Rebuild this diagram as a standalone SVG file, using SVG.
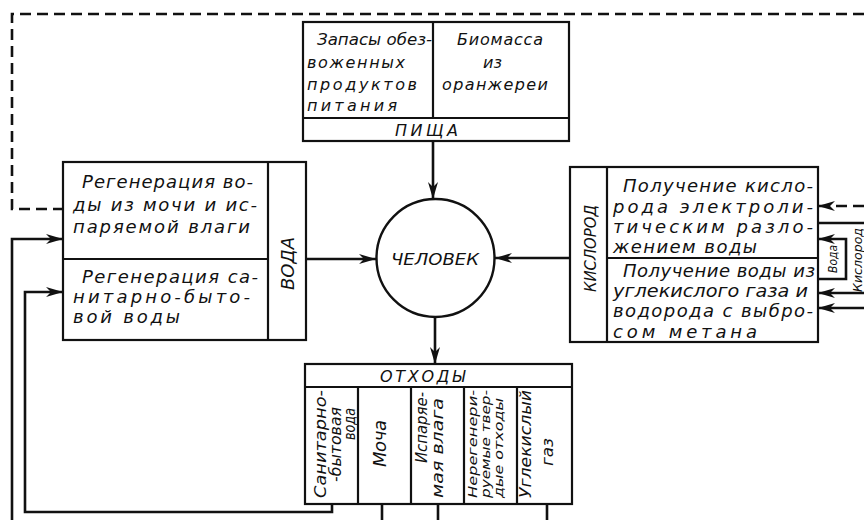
<svg xmlns="http://www.w3.org/2000/svg" width="864" height="520" viewBox="0 0 864 520">
<defs>
<style>
.box{fill:none;stroke:#111;stroke-width:2.2}
.ln{fill:none;stroke:#111;stroke-width:2.6}
.dash{stroke-dasharray:11 6}
.t{font-family:"DejaVu Sans","Liberation Sans",Arial,sans-serif;font-style:italic;font-size:18px;fill:#111}
.m{font-size:16px}
.s{font-size:15px}
.xs{font-size:12px}
</style>
<marker id="ah" markerUnits="userSpaceOnUse" markerWidth="18" markerHeight="12" refX="17" refY="6" orient="auto">
<path d="M0,1 L17,6 L0,11 L5,6 z" fill="#111"/>
</marker>
</defs>
<rect width="864" height="520" fill="#fff"/>

<g id="connectors">
<path class="ln dash" d="M864,14 H12 V209 H63"/>
<path class="ln dash" d="M864,206 H818" marker-end="url(#ah)"/>
<path class="ln" d="M12,520 V239 H63" marker-end="url(#ah)"/>
<path class="ln" d="M332,504 V512 H25 V292 H63" marker-end="url(#ah)"/>
<path class="ln" d="M433,141 V199" marker-end="url(#ah)"/>
<path class="ln" d="M306,259 H376" marker-end="url(#ah)"/>
<path class="ln" d="M570,258 H495" marker-end="url(#ah)"/>
<path class="ln" d="M435,317 V364" marker-end="url(#ah)"/>
<path class="ln" d="M382,504 V520 M438,504 V520 M547,504 V520"/>
<path class="ln" d="M818,223 H864"/>
<path class="ln" d="M818,279 H846 V239 H818" marker-end="url(#ah)"/>
<path class="ln" d="M864,293 H818" marker-end="url(#ah)"/>
<path class="ln" d="M864,308 H818" marker-end="url(#ah)"/>
<text class="t xs" transform="translate(837,273) rotate(-90)" textLength="28" lengthAdjust="spacingAndGlyphs">Вода</text>
<text class="t xs" transform="translate(862,292) rotate(-90)" textLength="64" lengthAdjust="spacingAndGlyphs">Кислород</text>
</g>

<g id="food">
<rect class="box" x="303" y="22" width="266" height="119"/>
<path class="box" d="M433,22 V118 M303,118 H569"/>
<text class="t m" x="317" y="45" textLength="115" lengthAdjust="spacingAndGlyphs">Запасы обез-</text>
<text class="t m" x="307" y="68" textLength="98" lengthAdjust="spacing">воженных</text>
<text class="t m" x="307" y="90" textLength="110" lengthAdjust="spacing">продуктов</text>
<text class="t m" x="307" y="111" textLength="90" lengthAdjust="spacing">питания</text>
<text class="t m" x="457" y="45" textLength="86" lengthAdjust="spacing">Биомасса</text>
<text class="t m" x="483" y="68" textLength="19" lengthAdjust="spacing">из</text>
<text class="t m" x="442" y="90" textLength="106" lengthAdjust="spacing">оранжереи</text>
<text class="t m" x="395" y="136" textLength="63" lengthAdjust="spacing">ПИЩА</text>
</g>

<g id="water">
<rect class="box" x="63" y="162" width="243" height="178"/>
<path class="box" d="M268,162 V340 M63,259 H268"/>
<text class="t" x="82" y="188" textLength="171" lengthAdjust="spacing">Регенерация во-</text>
<text class="t" x="73" y="211" textLength="184" lengthAdjust="spacing">ды из мочи и ис-</text>
<text class="t" x="73" y="233" textLength="177" lengthAdjust="spacing">паряемой влаги</text>
<text class="t" x="82" y="283" textLength="176" lengthAdjust="spacing">Регенерация са-</text>
<text class="t" x="73" y="303" textLength="177" lengthAdjust="spacing">нитарно-быто-</text>
<text class="t" x="73" y="323" textLength="107" lengthAdjust="spacing">вой воды</text>
<text class="t" transform="translate(294,290) rotate(-90)" textLength="53" lengthAdjust="spacing">ВОДА</text>
</g>

<g id="human">
<circle cx="435.5" cy="258" r="59" fill="none" stroke="#111" stroke-width="2.4"/>
<text class="t m" x="391" y="265" textLength="88" lengthAdjust="spacingAndGlyphs">ЧЕЛОВЕК</text>
</g>

<g id="oxygen">
<rect class="box" x="570" y="167" width="248" height="175"/>
<path class="box" d="M607,167 V342 M607,258 H818"/>
<text class="t" x="623" y="192" textLength="190" lengthAdjust="spacing">Получение кисло-</text>
<text class="t" x="613" y="213" textLength="200" lengthAdjust="spacing">рода электроли-</text>
<text class="t" x="613" y="233" textLength="200" lengthAdjust="spacing">тическим разло-</text>
<text class="t" x="613" y="253" textLength="144" lengthAdjust="spacing">жением воды</text>
<text class="t" x="623" y="277" textLength="192" lengthAdjust="spacing">Получение воды из</text>
<text class="t" x="613" y="297" textLength="195" lengthAdjust="spacingAndGlyphs">углекислого газа и</text>
<text class="t" x="613" y="317" textLength="200" lengthAdjust="spacing">водорода с выбро-</text>
<text class="t" x="613" y="338" textLength="144" lengthAdjust="spacing">сом метана</text>
<text class="t m" transform="translate(596,292) rotate(-90)" textLength="87" lengthAdjust="spacingAndGlyphs">КИСЛОРОД</text>
</g>

<g id="waste">
<rect class="box" x="305" y="364" width="267" height="140"/>
<path class="box" d="M305,387 H572 M358,387 V504 M411,387 V504 M464,387 V504 M517,387 V504"/>
<text class="t m" x="380" y="382" textLength="85" lengthAdjust="spacing">ОТХОДЫ</text>
<text class="t s" transform="translate(326,498) rotate(-90)" textLength="108" lengthAdjust="spacingAndGlyphs">Санитарно-</text>
<text class="t s" transform="translate(341,482) rotate(-90)" textLength="75" lengthAdjust="spacingAndGlyphs">-бытовая</text>
<text class="t s" transform="translate(355,440) rotate(-90)" textLength="32" lengthAdjust="spacingAndGlyphs">вода</text>
<text class="t" transform="translate(386,467) rotate(-90)" textLength="47" lengthAdjust="spacing">Моча</text>
<text class="t s" transform="translate(427,463) rotate(-90)" textLength="71" lengthAdjust="spacingAndGlyphs">Испаряе-</text>
<text class="t s" transform="translate(443,498) rotate(-90)" textLength="100" lengthAdjust="spacingAndGlyphs">мая влага</text>
<text class="t xs" transform="translate(477,498) rotate(-90)" textLength="108" lengthAdjust="spacingAndGlyphs">Нерегенери-</text>
<text class="t xs" transform="translate(490,498) rotate(-90)" textLength="108" lengthAdjust="spacingAndGlyphs">руемые твер-</text>
<text class="t xs" transform="translate(503,498) rotate(-90)" textLength="100" lengthAdjust="spacingAndGlyphs">дые отходы</text>
<text class="t s" transform="translate(531,498) rotate(-90)" textLength="108" lengthAdjust="spacingAndGlyphs">Углекислый</text>
<text class="t s" transform="translate(553,466) rotate(-90)" textLength="28" lengthAdjust="spacingAndGlyphs">газ</text>
</g>
</svg>
